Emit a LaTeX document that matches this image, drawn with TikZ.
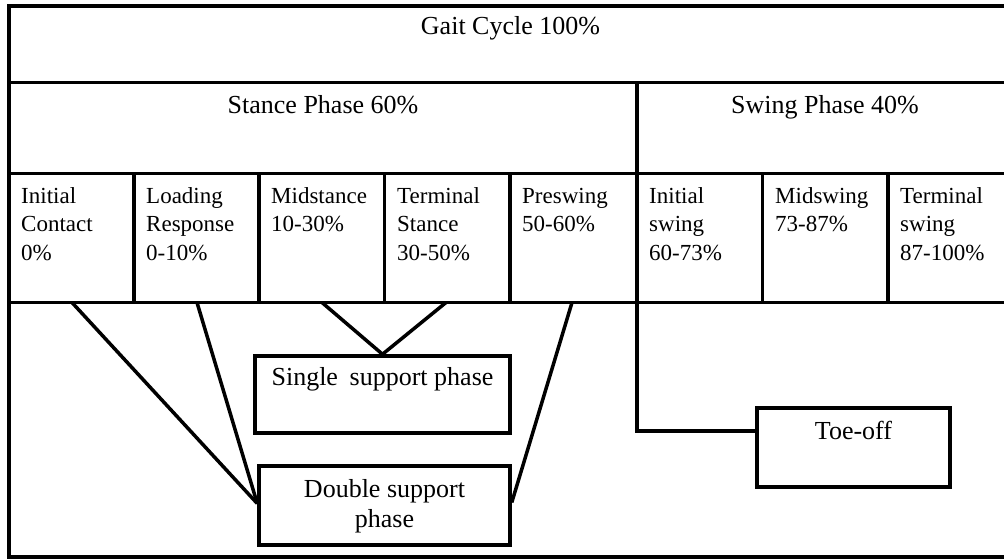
\documentclass[tikz,border=0pt]{standalone}
\usepackage{fontspec}
\setmainfont{Liberation Serif}
\usetikzlibrary{calc}
\newcommand{\lefttop}[1]{\begin{tabular}[t]{@{}l@{}}#1\end{tabular}}
\newcommand{\centertop}[1]{\begin{tabular}[t]{@{}c@{}}#1\end{tabular}}
\tikzset{
  grid/.style={line width=3.5pt},
  conn/.style={line width=3.5pt},
  boxed/.style={draw, line width=3.5pt, inner sep=0pt, fill=white},
  title/.style={font=\fontsize{26}{30}\selectfont, anchor=base, inner sep=0pt},
  cell/.style={font=\fontsize{23}{28.5}\selectfont, anchor=base west, inner sep=0pt},
  boxtext/.style={font=\fontsize{26}{30}\selectfont, anchor=base, inner sep=0pt},
}
\begin{document}
\begin{tikzpicture}[x=1pt,y=-1pt]
\useasboundingbox (0,0) rectangle (1004,559);
\fill[white] (0,0) rectangle (1004,559);
% table
\draw[grid] (9,6) rectangle (1012,557);
\draw[grid] (9,82.5) -- (1012,82.5);
\draw[grid] (9,173.5) -- (1012,173.5);
\draw[grid] (9,302.5) -- (1012,302.5);
\draw[grid] (637,82.5) -- (637,302.5);
\foreach \x in {134,259,384.5,510,762.5,888}
  \draw[grid] (\x,173.5) -- (\x,302.5);
% titles
\node[title] (gait) at (510.5,35) {Gait Cycle 100\%};
\node[title] (stance) at (323,114) {Stance Phase 60\%};
\node[title] (swing) at (825,114) {Swing Phase 40\%};
% cells
\node[cell] (c1) at (21,203) {\lefttop{Initial\\Contact\\0\%}};
\node[cell] (c2) at (146,203) {\lefttop{Loading\\Response\\0-10\%}};
\node[cell] (c3) at (271,203) {\lefttop{Midstance\\10-30\%}};
\node[cell] (c4) at (397,203) {\lefttop{Terminal\\Stance\\30-50\%}};
\node[cell] (c5) at (522,203) {\lefttop{Preswing\\50-60\%}};
\node[cell] (c6) at (649,203) {\lefttop{Initial\\swing\\60-73\%}};
\node[cell] (c7) at (775,203) {\lefttop{Midswing\\73-87\%}};
\node[cell] (c8) at (900,203) {\lefttop{Terminal\\swing\\87-100\%}};
% connector start points
\coordinate (p1) at (72,302.5);
\coordinate (p2) at (197,302.5);
\coordinate (p3) at (322,302.5);
\coordinate (p4) at (446,302.5);
\coordinate (p5) at (572,302.5);
\coordinate (p6) at (637,302.5);
% boxes
\node[boxed, minimum width=255, minimum height=77] (single) at (382.5,394.5) {};
\node[boxed, minimum width=251, minimum height=79] (double) at (384.5,505.5) {};
\node[boxed, minimum width=193, minimum height=79] (toeoff) at (853.5,447.5) {};
\node[boxtext] (singlet) at (382.5,385) {Single\hspace{0.45em}support phase};
\node[boxtext] (doublet) at (384.5,497) {\centertop{Double support\\phase}};
\node[boxtext] (toeofft) at (853.5,439) {Toe-off};
% connectors
\coordinate (dw) at ($(double.west)+(0,-2)$);
\coordinate (de) at ($(double.east)+(0,-3)$);
\draw[conn] (p1) -- (dw);
\draw[conn] (p2) -- (dw);
\draw[conn] (p5) -- (de);
\draw[conn] (p3) -- (single.north);
\draw[conn] (p4) -- (single.north);
\coordinate (tw) at ($(toeoff.north west)!0.3!(toeoff.south west)$);
\draw[conn] (p6) |- (tw);
\end{tikzpicture}
\end{document}
